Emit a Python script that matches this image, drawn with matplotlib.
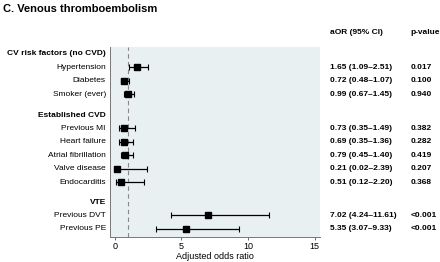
import numpy as np
import matplotlib.pyplot as plt

plt.rcParams['font.family'] = ['Liberation Sans', 'DejaVu Sans']

groups = ['CV risk factors (no CVD)', 'Established CVD', 'VTE']
labels = [['Hypertension', 'Diabetes', 'Smoker (ever)'],
          ['Previous MI', 'Heart failure', 'Atrial fibrillation', 'Valve disease', 'Endocarditis'],
          ['Previous DVT', 'Previous PE']]
aor = [1.65, 0.72, 0.99, 0.73, 0.69, 0.79, 0.21, 0.51, 7.02, 5.35]
lo = [1.09, 0.48, 0.67, 0.35, 0.35, 0.45, 0.02, 0.12, 4.24, 3.07]
hi = [2.51, 1.07, 1.45, 1.49, 1.36, 1.40, 2.39, 2.20, 11.61, 9.33]
pvals = ['0.017', '0.100', '0.940', '0.382', '0.282', '0.419', '0.207', '0.368', '<0.001', '<0.001']
xticks = [0, 5, 10, 15]

# row layout: group header then its rows, with a gap between groups
header_pos = [0, 4.55, 11.0]
rows = []
for hp, labs in zip(header_pos, labels):
    for k in range(len(labs)):
        rows.append(hp + 1 + k if hp == 0 else hp + 0.95 + k)
rows = np.array(rows)
names = [n for labs in labels for n in labs]

fig = plt.figure(figsize=(4.4, 2.62), dpi=100)
ax = fig.add_axes([0.25, 0.095, 0.477, 0.726])
ax.set_facecolor('#e9f0f2')

aor = np.array(aor)
err = np.array([aor - np.array(lo), np.array(hi) - aor])
ax.errorbar(aor, rows, xerr=err, fmt='s', color='black', ms=4.5,
            elinewidth=0.9, capsize=2, capthick=0.8)
ax.axvline(1, color='#888888', ls=(0, (4, 3)), lw=0.8, zorder=0)

ax.set_xlim(-0.35, 15.4)
ax.set_ylim(13.55, -0.52)
ax.set_xticks(xticks)
ax.tick_params(axis='x', labelsize=6.5, length=2, width=0.6, color='#555555', pad=1.5)
ax.set_yticks([])
for s in ['top', 'right']:
    ax.spines[s].set_visible(False)
for s in ['left', 'bottom']:
    ax.spines[s].set_color('#777777')
    ax.spines[s].set_linewidth(0.7)
ax.set_xlabel('Adjusted odds ratio', fontsize=6.5, labelpad=1)

tr = ax.get_yaxis_transform()
for hp, g in zip(header_pos, groups):
    ax.text(-0.02, hp, g, transform=tr, ha='right', va='center', fontsize=6, fontweight='bold')
for y, n in zip(rows, names):
    ax.text(-0.02, y, n, transform=tr, ha='right', va='center', fontsize=6)

cx1, cx2 = 1.048, 1.433
for y, a, l, h, p in zip(rows, aor, lo, hi, pvals):
    ax.text(cx1, y, f'{a:.2f} ({l:.2f}\u2013{h:.2f})', transform=tr, ha='left', va='center',
            fontsize=6, fontweight='bold')
    ax.text(cx2, y, p, transform=tr, ha='left', va='center', fontsize=6, fontweight='bold')
ax.text(cx1, -1.55, 'aOR (95% CI)', transform=tr, ha='left', va='center', fontsize=6, fontweight='bold')
ax.text(cx2, -1.55, 'p-value', transform=tr, ha='left', va='center', fontsize=6, fontweight='bold')

fig.text(0.007, 0.965, 'C. Venous thromboembolism', ha='left', va='center', fontsize=8, fontweight='bold')

fig.savefig('out.png', dpi=100)
